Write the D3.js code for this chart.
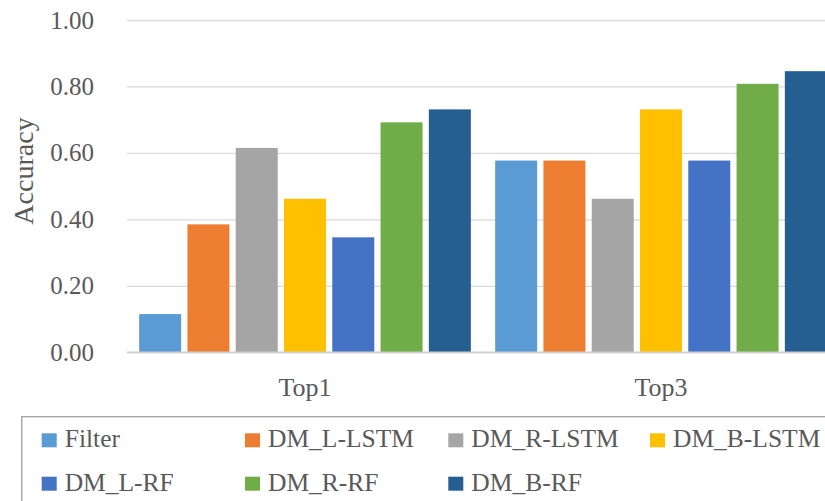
<!DOCTYPE html>
<html>
<head>
<meta charset="utf-8">
<script src="https://cdn.jsdelivr.net/npm/d3@7"></script>
<style>
  html, body { margin: 0; padding: 0; background: #fff; }
  svg { display: block; }
  text { font-family: "Liberation Serif", "Times New Roman", serif; fill: #595959; }
</style>
</head>
<body>
<svg id="chart" width="825" height="501"></svg>
<script>
// Accuracy of each method for the Top1 and Top3 criteria
const categories = ["Top1", "Top3"];
const seriesNames = ["Filter", "DM_L-LSTM", "DM_R-LSTM", "DM_B-LSTM", "DM_L-RF", "DM_R-RF", "DM_B-RF"];
const top1Values = [0.115, 0.385, 0.615, 0.462, 0.346, 0.692, 0.731];
const top3Values = [0.577, 0.577, 0.462, 0.731, 0.577, 0.808, 0.846];
const seriesColors = ["#5B9BD5", "#ED7D31", "#A5A5A5", "#FFC000", "#4472C4", "#70AD47", "#255E91"];
const yTickValues = [0, 0.2, 0.4, 0.6, 0.8, 1.0];
const yTitle = "Accuracy";

const valuesByCategory = [top1Values, top3Values];
const rows = categories.map((c, i) => ({
  category: c,
  values: seriesNames.map((s, j) => ({ series: s, value: valuesByCategory[i][j] }))
}));

const svg = d3.select("#chart");
const plot = { left: 127, right: 839, top: 20, bottom: 352.3 };

const x0 = d3.scaleBand().domain(categories).range([plot.left, plot.right]).paddingInner(0).paddingOuter(0);
const x1 = d3.scaleBand().domain(seriesNames).range([0, x0.bandwidth()]).paddingInner(0.13).paddingOuter(0.252);
const y = d3.scaleLinear().domain([0, 1]).range([plot.bottom, plot.top]);
const color = d3.scaleOrdinal().domain(seriesNames).range(seriesColors);

// horizontal gridlines
const grid = svg.append("g")
  .attr("transform", `translate(${plot.left},0)`)
  .call(d3.axisLeft(y).tickValues(yTickValues).tickSize(-(plot.right - plot.left)).tickFormat(""));
grid.select(".domain").remove();
grid.selectAll(".tick line").attr("stroke", "#d9d9d9").attr("stroke-width", 1.3);

// bars
svg.append("g").selectAll("g")
  .data(rows)
  .join("g")
  .attr("transform", d => `translate(${x0(d.category)},0)`)
  .selectAll("rect")
  .data(d => d.values)
  .join("rect")
  .attr("x", d => x1(d.series))
  .attr("width", x1.bandwidth())
  .attr("y", d => y(d.value))
  .attr("height", d => y(0) - y(d.value))
  .attr("fill", d => color(d.series));

// category axis line
svg.append("line")
  .attr("x1", plot.left).attr("x2", plot.right)
  .attr("y1", y(0)).attr("y2", y(0))
  .attr("stroke", "#d0d0d0").attr("stroke-width", 1.5);

// y tick labels
const yAxis = svg.append("g")
  .attr("transform", "translate(94,0)")
  .call(d3.axisLeft(y).tickValues(yTickValues).tickSize(0).tickPadding(0).tickFormat(d3.format(".2f")));
yAxis.select(".domain").remove();
yAxis.selectAll("text")
  .attr("font-size", 25)
  .attr("font-family", "Liberation Serif, serif")
  .attr("fill", "#595959");

// x category labels
const xAxis = svg.append("g")
  .attr("transform", `translate(0,${plot.bottom})`)
  .call(d3.axisBottom(x0).tickSize(0).tickPadding(0));
xAxis.select(".domain").remove();
xAxis.selectAll("text")
  .attr("y", 44)
  .attr("dy", 0)
  .attr("font-size", 26)
  .attr("font-family", "Liberation Serif, serif")
  .attr("fill", "#595959");

// y axis title
svg.append("text")
  .attr("transform", `translate(33,171) rotate(-90)`)
  .attr("text-anchor", "middle")
  .attr("font-size", 28)
  .text(yTitle);

// legend
const legend = svg.append("g");
legend.append("rect")
  .attr("x", 21.7).attr("y", 416.7)
  .attr("width", 830).attr("height", 120)
  .attr("fill", "none").attr("stroke", "#a6a6a6").attr("stroke-width", 1.4);

const colX = [41.7, 245, 448.3, 650];
const rowY = [447.3, 490.7];
const items = legend.selectAll("g.item")
  .data(seriesNames)
  .join("g")
  .attr("class", "item")
  .attr("transform", (d, i) => `translate(${colX[i % 4]},${rowY[Math.floor(i / 4)]})`);
items.append("rect")
  .attr("x", 0).attr("y", -14)
  .attr("width", 15).attr("height", 14)
  .attr("fill", d => color(d));
items.append("text")
  .attr("x", 23).attr("y", 0)
  .attr("font-size", 25.5)
  .text(d => d);
</script>
</body>
</html>
